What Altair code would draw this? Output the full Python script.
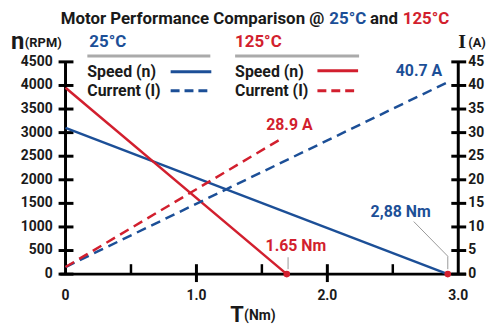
import altair as alt
import pandas as pd

# ---- data ----
torque_speed_25 = [0.0, 2.92]
speed_25 = [3100, 0]
torque_speed_125 = [0.0, 1.69]
speed_125 = [3950, 0]
torque_current_25 = [0.0, 2.92]
current_25 = [1.5, 40.7]
torque_current_125 = [0.0, 1.66]
current_125 = [1.5, 28.9]

stall_torque = [1.69, 2.92]

speed_ticks = list(range(0, 4501, 500))
current_ticks = list(range(0, 46, 5))
torque_major = [1.0, 2.0]
torque_minor = [0.5, 1.5, 2.5]
torque_label_values = [0.0, 1.0, 2.0, 3.0]
torque_label_text = ["0", "1.0", "2.0", "3.0"]

BLUE = "#1c4f97"
RED = "#d21f2e"
FONT = "Roboto, Liberation Sans, sans-serif"

XS = alt.Scale(domain=[0, 3], nice=False, zero=False)
YS = alt.Scale(domain=[0, 4500], nice=False, zero=False)


def X(field):
    return alt.X(field, type="quantitative", scale=XS, axis=None)


def Y(field):
    return alt.Y(field, type="quantitative", scale=YS, axis=None)


layers = []

# ---- axes lines ----
axis_v = pd.DataFrame({"t": [0.0, 3.0], "lo": [0, 0], "hi": [4500, 4500]})
layers.append(alt.Chart(axis_v).mark_rule(color="black", strokeWidth=3).encode(
    x=X("t"), y=Y("lo"), y2="hi"))
axis_h = pd.DataFrame({"a": [-0.04], "b": [3.06], "n": [0]})
layers.append(alt.Chart(axis_h).mark_rule(color="black", strokeWidth=3).encode(
    x=X("a"), x2="b", y=Y("n")))

# ---- ticks ----
layers.append(alt.Chart(pd.DataFrame({"n": speed_ticks})).mark_rule(
    color="black", strokeWidth=3).encode(y=Y("n"), x=alt.value(-7), x2=alt.value(8)))
layers.append(alt.Chart(pd.DataFrame({"c": current_ticks})).transform_calculate(
    n="datum.c * 100").mark_rule(color="black", strokeWidth=3).encode(
    y=Y("n"), x=alt.value(389), x2=alt.value(404)))
layers.append(alt.Chart(pd.DataFrame({"t": torque_major})).mark_rule(
    color="black", strokeWidth=3).encode(x=X("t"), y=alt.value(204), y2=alt.value(222)))
layers.append(alt.Chart(pd.DataFrame({"t": torque_minor})).mark_rule(
    color="black", strokeWidth=2.5).encode(x=X("t"), y=alt.value(204), y2=alt.value(214)))

# ---- tick labels ----
tick_font = dict(font=FONT, fontSize=14, fontWeight="bold", color="#1a1a1a")
layers.append(alt.Chart(pd.DataFrame({"n": speed_ticks})).mark_text(
    align="right", baseline="middle", **tick_font).encode(
    y=Y("n"), x=alt.value(-13), text=alt.Text("n:Q")))
layers.append(alt.Chart(pd.DataFrame({"c": current_ticks})).transform_calculate(
    n="datum.c * 100").mark_text(align="left", baseline="middle", **tick_font).encode(
    y=Y("n"), x=alt.value(406), text=alt.Text("c:Q")))
layers.append(alt.Chart(pd.DataFrame({"t": torque_label_values, "s": torque_label_text})).mark_text(
    align="center", baseline="middle", **tick_font).encode(
    x=X("t"), y=alt.value(236), text="s:N"))

# ---- data lines ----
layers.append(alt.Chart(pd.DataFrame({"t": torque_speed_25, "n": speed_25})).mark_line(
    color=BLUE, strokeWidth=2.5).encode(x=X("t"), y=Y("n")))
layers.append(alt.Chart(pd.DataFrame({"t": torque_speed_125, "n": speed_125})).mark_line(
    color=RED, strokeWidth=2.5).encode(x=X("t"), y=Y("n")))
layers.append(alt.Chart(pd.DataFrame({"t": torque_current_25, "c": current_25})).transform_calculate(
    n="datum.c * 100").mark_line(color=BLUE, strokeWidth=2.5, strokeDash=[10, 6]).encode(
    x=X("t"), y=Y("n")))
layers.append(alt.Chart(pd.DataFrame({"t": torque_current_125, "c": current_125})).transform_calculate(
    n="datum.c * 100").mark_line(color=RED, strokeWidth=2.5, strokeDash=[10, 6]).encode(
    x=X("t"), y=Y("n")))

# ---- leader lines ----
lead_288 = pd.DataFrame({"t": [2.66, 2.92, 2.92], "n": [1114, 379, 105], "o": [0, 1, 2]})
layers.append(alt.Chart(lead_288).mark_line(color="#999999", strokeWidth=1).encode(
    x=X("t"), y=Y("n"), order="o:Q"))
lead_165 = pd.DataFrame({"t": [1.70, 1.70], "n": [357, 105], "o": [0, 1]})
layers.append(alt.Chart(lead_165).mark_line(color="#999999", strokeWidth=1).encode(
    x=X("t"), y=Y("n"), order="o:Q"))

# ---- stall points ----
layers.append(alt.Chart(pd.DataFrame({"t": stall_torque, "n": [0, 0]})).mark_circle(
    color=RED, size=45, opacity=1).encode(x=X("t"), y=Y("n")))

# ---- value annotations ----
ann = pd.DataFrame({
    "t": [2.70, 1.71, 2.56, 1.76],
    "n": [4311, 3154, 1325, 589],
    "s": ["40.7 A", "28.9 A", "2,88 Nm", "1.65 Nm"],
    "col": [BLUE, RED, BLUE, RED],
})
layers.append(alt.Chart(ann).mark_text(
    font=FONT, fontSize=16, fontWeight="bold", align="center", baseline="middle").encode(
    x=X("t"), y=Y("n"), text="s:N", color=alt.Color("col:N", scale=None)))


def label(text, x, y, size=16, color="#1a1a1a", align="left", weight="bold", font=FONT):
    return alt.Chart(pd.DataFrame({"s": [text]})).mark_text(
        font=font, fontSize=size, fontWeight=weight, align=align, baseline="middle",
        color=color).encode(x=alt.value(x), y=alt.value(y), text="s:N")


def seg(x1, x2, y, color, width=3, dash=None):
    kw = dict(color=color, strokeWidth=width)
    if dash:
        kw["strokeDash"] = dash
    return alt.Chart(pd.DataFrame({"k": [0]})).mark_rule(**kw).encode(
        x=alt.value(x1), x2=alt.value(x2), y=alt.value(y))


# ---- legend ----
layers += [
    label("25°C", 24, -20, size=17, color=BLUE),
    seg(22, 146, -6, "#aaaaaa", width=3),
    label("Speed (n)", 22, 10, size=16),
    seg(106, 147, 10, BLUE),
    label("Current (I)", 22, 29, size=16),
    seg(106, 147, 29, BLUE, dash=[9, 5]),
    label("125°C", 171, -20, size=17, color=RED),
    seg(171, 296, -6, "#aaaaaa", width=3),
    label("Speed (n)", 171, 10, size=16),
    seg(254, 295, 9, RED),
    label("Current (I)", 171, 29, size=16),
    seg(254, 295, 29, RED, dash=[9, 5]),
]

# ---- axis titles ----
layers += [
    label("n", -55, -20, size=24),
    label("(RPM)", -41, -19, size=13),
    label("I", 396, -20, size=20, font="Liberation Serif, DejaVu Serif, serif"),
    label("(A)", 406, -19, size=13),
    label("T", 166, 255, size=22),
    label("(Nm)", 180, 256, size=14),
]

# ---- title ----
layers += [
    label("Motor Performance Comparison @", 261, -43, size=17, align="right"),
    label("25°C", 266, -43, size=17, color=BLUE),
    label("and", 307, -43, size=17),
    label("125°C", 340, -43, size=17, color=RED),
]

chart = alt.layer(*layers).properties(
    width=396,
    height=214,
    padding={"left": 58, "top": 53, "right": 31, "bottom": 52},
    autosize=alt.AutoSizeParams(type="none"),
    background="white",
).configure_view(stroke=None)

chart.save("out.html", embed_options={"renderer": "svg", "actions": False})
